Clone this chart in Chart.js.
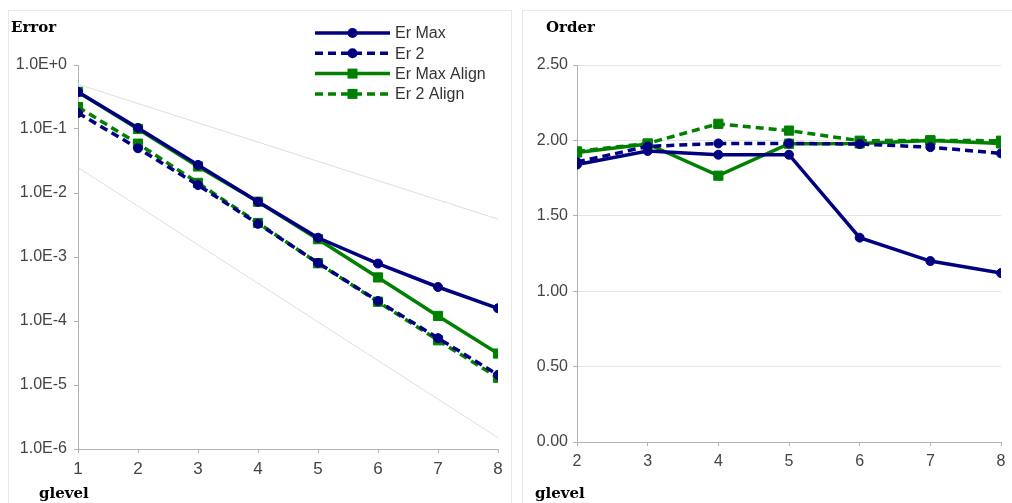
<!DOCTYPE html>
<html lang="en">
<head>
    <meta charset="UTF-8">
    <title>Error and Order</title>
    <script src="https://cdn.jsdelivr.net/npm/chart.js"></script>
    <style>
        html, body {
            margin: 0;
            padding: 0;
            background: #fff;
            overflow: hidden;
        }
        .panel {
            position: absolute;
            top: 10px;
            border: 1px solid #e8e8e8;
            height: 500px;
        }
        #leftPanel { left: 8px; width: 502px; }
        #rightPanel { left: 522px; width: 500px; }
        canvas { display: block; }
    </style>
</head>
<body>
    <div class="panel" id="leftPanel"><canvas id="errorChart" width="502" height="492"></canvas></div>
    <div class="panel" id="rightPanel"><canvas id="orderChart" width="489" height="492"></canvas></div>

    <script>
        // glevel for the error chart
        const levels = [1, 2, 3, 4, 5, 6, 7, 8];
        const errMax      = [0.38, 0.104, 0.0275, 0.0073, 0.0020, 7.9e-4, 3.4e-4, 1.58e-4];
        const err2        = [0.178, 0.050, 0.0133, 0.0033, 8.1e-4, 2.05e-4, 5.4e-5, 1.44e-5];
        const errMaxAlign = [0.38, 0.100, 0.026, 0.0073, 0.0019, 4.8e-4, 1.2e-4, 3.1e-5];
        const err2Align   = [0.22, 0.059, 0.0144, 0.0034, 8.0e-4, 2.0e-4, 5.0e-5, 1.3e-5];

        // light reference slopes (1st and 2nd order)
        const refLevels = [1, 8];
        const refFirst  = [0.5, 0.0039];
        const refSecond = [0.025, 1.5e-6];

        const errTicks = [1e-6, 1e-5, 1e-4, 1e-3, 1e-2, 1e-1, 1];

        // glevel for the order chart
        const orderLevels = [2, 3, 4, 5, 6, 7, 8];
        const ordMax      = [1.84, 1.93, 1.905, 1.905, 1.355, 1.20, 1.12];
        const ord2        = [1.857, 1.96, 1.98, 1.98, 1.976, 1.955, 1.914];
        const ordMaxAlign = [1.92, 1.976, 1.766, 1.978, 1.98, 2.00, 1.98];
        const ord2Align   = [1.927, 1.98, 2.11, 2.065, 1.998, 2.00, 1.998];

        const NAVY = "#000080";
        const GREEN = "#008000";
        const DASH = [8, 5];

        Chart.defaults.font.family = "'Liberation Sans', Arial, sans-serif";
        Chart.defaults.font.size = 16;
        Chart.defaults.color = "#444";

        function pairs(xs, ys) {
            return xs.map((x, i) => ({ x: x, y: ys[i] }));
        }

        function series(label, xs, ys, color, dashed, square) {
            return {
                label: label,
                data: pairs(xs, ys),
                borderColor: color,
                backgroundColor: color,
                pointBackgroundColor: color,
                pointBorderColor: color,
                borderWidth: 3.5,
                borderDash: dashed ? DASH : [],
                pointStyle: square ? "rect" : "circle",
                pointRadius: square ? 6.5 : 4.5,
                pointBorderWidth: 1,
                tension: 0
            };
        }

        function refLine(ys) {
            return {
                data: pairs(refLevels, ys),
                borderColor: "#dedede",
                borderWidth: 1,
                pointRadius: 0,
                order: 10
            };
        }

        // texts placed around the plot (titles, axis names)
        const textPlugin = {
            id: "panelTexts",
            afterDraw(chart, args, opts) {
                const ctx = chart.ctx;
                ctx.save();
                ctx.fillStyle = "#000";
                ctx.font = "bold 15px 'DejaVu Serif', serif";
                ctx.textBaseline = "alphabetic";
                ctx.textAlign = "left";
                opts.items.forEach(t => ctx.fillText(t.text, t.x, t.y));
                ctx.restore();
            }
        };

        // legend drawn over the plot, line + marker like the original
        const overlayLegend = {
            id: "overlayLegend",
            afterDraw(chart, args, opts) {
                if (!opts.show) return;
                const ctx = chart.ctx;
                const items = chart.data.datasets.filter(d => d.label);
                ctx.save();
                items.forEach((ds, i) => {
                    const y = opts.y + i * opts.rowGap;
                    ctx.strokeStyle = ds.borderColor;
                    ctx.lineWidth = ds.borderWidth;
                    ctx.setLineDash(ds.borderDash || []);
                    ctx.beginPath();
                    ctx.moveTo(opts.x, y);
                    ctx.lineTo(opts.x + opts.lineLen, y);
                    ctx.stroke();
                    ctx.setLineDash([]);
                    const cx = opts.x + opts.lineLen / 2;
                    ctx.fillStyle = ds.borderColor;
                    ctx.beginPath();
                    if (ds.pointStyle === "rect") {
                        ctx.rect(cx - 5, y - 5, 10, 10);
                    } else {
                        ctx.arc(cx, y, 5, 0, Math.PI * 2);
                    }
                    ctx.fill();
                    ctx.fillStyle = "#333";
                    ctx.font = "16px 'Liberation Sans', Arial, sans-serif";
                    ctx.textBaseline = "middle";
                    ctx.fillText(ds.label, opts.x + opts.lineLen + 5, y + 1);
                });
                ctx.restore();
            }
        };

        const axisGray = "#b3b3b3";

        new Chart(document.getElementById("errorChart"), {
            type: "line",
            data: {
                datasets: [
                    series("Er Max", levels, errMax, NAVY, false, false),
                    series("Er 2", levels, err2, NAVY, true, false),
                    series("Er Max Align", levels, errMaxAlign, GREEN, false, true),
                    series("Er 2 Align", levels, err2Align, GREEN, true, true),
                    refLine(refFirst),
                    refLine(refSecond)
                ]
            },
            options: {
                responsive: false,
                animation: false,
                layout: { padding: { left: 0, right: 13, top: 54, bottom: 0 } },
                scales: {
                    x: {
                        type: "linear",
                        min: 1,
                        max: 8,
                        ticks: { stepSize: 1, padding: 6, font: { size: 17 } },
                        grid: { drawOnChartArea: false, tickLength: 4, color: axisGray },
                        border: { color: axisGray },
                        afterFit: s => { s.height = 54; }
                    },
                    y: {
                        type: "logarithmic",
                        min: 1e-6,
                        max: 1,
                        afterBuildTicks: s => { s.ticks = errTicks.map(v => ({ value: v })); },
                        ticks: {
                            padding: 7,
                            callback: v => Number(v).toExponential(1).toUpperCase()
                        },
                        grid: { drawOnChartArea: false, tickLength: 4, color: axisGray },
                        border: { color: axisGray },
                        afterFit: s => { s.width = 69; }
                    }
                },
                plugins: {
                    legend: { display: false },
                    tooltip: { enabled: false },
                    panelTexts: { items: [{ text: "Error", x: 2, y: 21 }, { text: "glevel", x: 30, y: 487 }] },
                    overlayLegend: { show: true, x: 306, y: 22, rowGap: 20.3, lineLen: 75 }
                }
            },
            plugins: [textPlugin, overlayLegend]
        });

        new Chart(document.getElementById("orderChart"), {
            type: "line",
            data: {
                datasets: [
                    series("Er Max", orderLevels, ordMax, NAVY, false, false),
                    series("Er 2", orderLevels, ord2, NAVY, true, false),
                    series("Er Max Align", orderLevels, ordMaxAlign, GREEN, false, true),
                    series("Er 2 Align", orderLevels, ord2Align, GREEN, true, true)
                ]
            },
            options: {
                responsive: false,
                animation: false,
                layout: { padding: { left: 0, right: 11, top: 54, bottom: 0 } },
                scales: {
                    x: {
                        type: "linear",
                        min: 2,
                        max: 8,
                        ticks: { stepSize: 1, padding: 6 },
                        grid: { drawOnChartArea: false, tickLength: 4, color: axisGray },
                        border: { color: axisGray },
                        afterFit: s => { s.height = 61; }
                    },
                    y: {
                        type: "linear",
                        min: 0,
                        max: 2.5,
                        ticks: { stepSize: 0.5, padding: 5, callback: v => Number(v).toFixed(2) },
                        grid: { color: "#e6e6e6", tickColor: axisGray, tickLength: 4 },
                        border: { color: axisGray },
                        afterFit: s => { s.width = 54; }
                    }
                },
                plugins: {
                    legend: { display: false },
                    tooltip: { enabled: false },
                    panelTexts: { items: [{ text: "Order", x: 23, y: 21 }, { text: "glevel", x: 12, y: 487 }] },
                    overlayLegend: { show: false }
                }
            },
            plugins: [textPlugin, overlayLegend]
        });
    </script>
</body>
</html>
